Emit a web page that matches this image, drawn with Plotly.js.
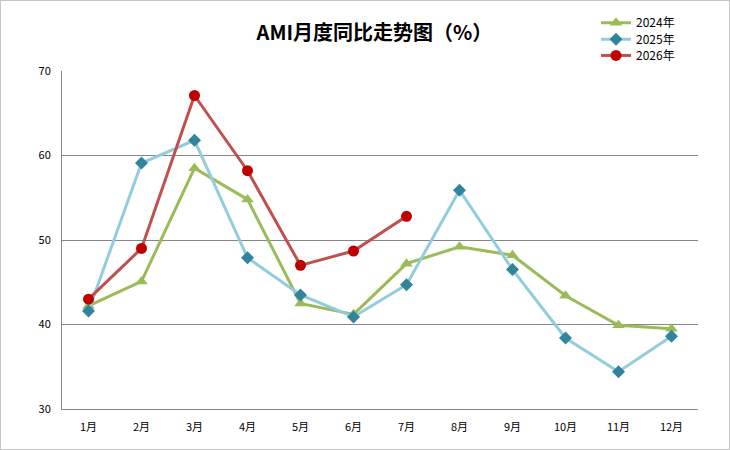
<!DOCTYPE html>
<html>
<head>
<meta charset="utf-8">
<script src="https://cdn.plot.ly/plotly-3.0.1.min.js"></script>
<style>
  body { margin: 0; background: #fff; }
  #wrap { position: relative; width: 730px; height: 450px; }
  #chart { width: 730px; height: 450px; }
  #frame { position: absolute; left: 0; top: 0; width: 728px; height: 448px; border: 1px solid #c6c6c6; pointer-events: none; }
</style>
</head>
<body>
<div id="wrap">
  <div id="chart"></div>
  <div id="frame"></div>
</div>
<script>
// monthly values
const months = ["1月", "2月", "3月", "4月", "5月", "6月", "7月", "8月", "9月", "10月", "11月", "12月"]
const y2024 = [42.2, 45.1, 58.5, 54.8, 42.5, 41.2, 47.2, 49.2, 48.2, 43.4, 39.9, 39.5]
const y2025 = [41.6, 59.1, 61.8, 47.9, 43.5, 40.9, 44.7, 55.9, 46.5, 38.4, 34.4, 38.6]
const y2026 = [43.0, 49.0, 67.1, 58.2, 47.0, 48.7, 52.8]

const font = "'Noto Sans CJK SC', 'DejaVu Sans', sans-serif"

var s2024 = {
    x: months,
    y: y2024,
    name: "2024年",
    legend: "legend",
    type: "scatter",
    mode: "lines+markers",
    line: {color: "#9bbb59", width: 3},
    marker: {symbol: "triangle-up", size: 11, color: "#9bbb59"}
}
var s2025 = {
    x: months,
    y: y2025,
    name: "2025年",
    legend: "legend2",
    type: "scatter",
    mode: "lines+markers",
    line: {color: "#92cddc", width: 3},
    marker: {symbol: "diamond", size: 10, color: "#31849b"}
}
var s2026 = {
    x: months.slice(0, y2026.length),
    y: y2026,
    name: "2026年",
    legend: "legend3",
    type: "scatter",
    mode: "lines+markers",
    line: {color: "#c0504d", width: 3},
    marker: {symbol: "circle", size: 11, color: "#c00000"}
}

// one legend per series so the rows can sit as tight as in the picture
function legendAt(y){
    return {
        x: 0.8396, xanchor: "left",
        y: y, yanchor: "middle",
        font: {family: font, size: 12, color: "#000"},
        bgcolor: "rgba(0,0,0,0)",
        itemwidth: 30
    }
}

var layout = {
    width: 730,
    height: 450,
    margin: {l: 62, r: 32, t: 71, b: 41, autoexpand: false},
    paper_bgcolor: "#fff",
    plot_bgcolor: "#fff",
    font: {family: font, size: 11, color: "#000"},
    title: {
        text: "<b>AMI月度同比走势图（%）</b>",
        font: {family: font, size: 20, color: "#000"},
        xref: "container", x: 0.513, xanchor: "center",
        yref: "container", y: 0.927, yanchor: "middle"
    },
    showlegend: true,
    legend: legendAt(1.143),
    legend2: legendAt(1.094),
    legend3: legendAt(1.046),
    xaxis: {
        type: "category",
        range: [-0.5, 11.5],
        showgrid: false,
        showline: true,
        linecolor: "#868686",
        linewidth: 1,
        ticks: "",
        ticklabelstandoff: 8,
        tickfont: {family: font, size: 11, color: "#000"},
        fixedrange: true
    },
    yaxis: {
        range: [30, 70],
        dtick: 10,
        showgrid: true,
        gridcolor: "#868686",
        gridwidth: 1,
        showline: true,
        linecolor: "#868686",
        zeroline: false,
        ticks: "",
        ticklabelstandoff: 8,
        tickfont: {family: font, size: 11, color: "#000"},
        fixedrange: true
    }
}

Plotly.newPlot("chart", [s2024, s2025, s2026], layout, {displayModeBar: false, staticPlot: true})
</script>
</body>
</html>
